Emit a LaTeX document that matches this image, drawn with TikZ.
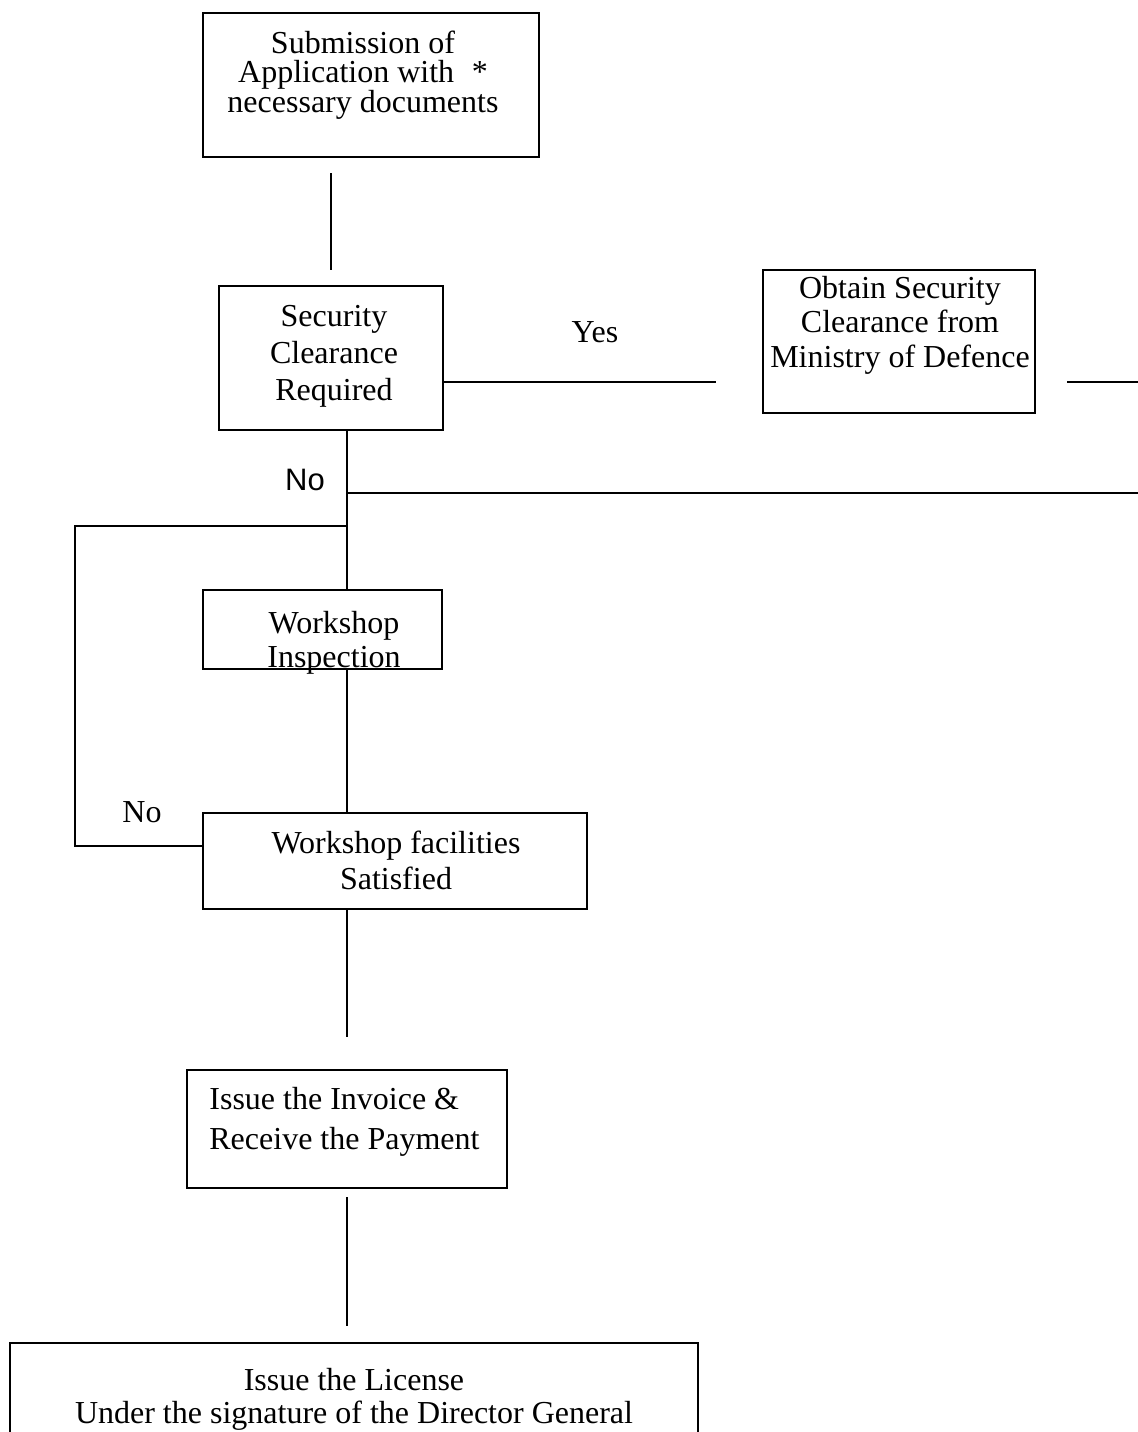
\documentclass[tikz,border=0pt]{standalone}
\usepackage{fontspec}
\setmainfont{Liberation Serif}
\newfontfamily\labelsans{Liberation Sans}
\newcommand\tstrut{\rule{0pt}{12pt}}
\begin{document}
\begin{tikzpicture}[x=0.5pt,y=-0.5pt,
  box/.style={draw,line width=1pt,rectangle,inner sep=0pt},
  txt/.style={inner sep=0pt,anchor=north,align=center},
  conn/.style={line width=1pt},
  lbl/.style={inner sep=0pt,anchor=base,font=\fontsize{16pt}{18pt}\selectfont}]
\useasboundingbox (0,0) rectangle (1138,1432);
\clip (0,0) rectangle (1138,1432);

% boxes
\node[box,minimum width=168pt,minimum height=72pt] (sub) at (371,85) {};
\node[box,minimum width=112pt,minimum height=72pt] (sec) at (331,358) {};
\node[box,minimum width=136pt,minimum height=71.5pt] (mod) at (899,341.5) {};
\node[box,minimum width=119.5pt,minimum height=39.5pt] (insp) at (322.5,629.5) {};
\node[box,minimum width=192pt,minimum height=48pt] (sat) at (395,861) {};
\node[box,minimum width=160pt,minimum height=59pt] (inv) at (347,1129) {};
\node[box,minimum width=344pt,minimum height=68.5pt] (lic) at (354,1411.5) {};

% texts
\node[txt,font=\fontsize{16pt}{14.75pt}\selectfont] (subT) at (363,29)
  {\tstrut Submission of\\Application with\hspace{0.55em}*\\necessary documents};
\node[txt,font=\fontsize{16pt}{18.5pt}\selectfont] (secT) at (334,302)
  {\tstrut Security\\Clearance\\Required};
\node[txt,font=\fontsize{16pt}{17.25pt}\selectfont] (modT) at (900,274)
  {\tstrut Obtain Security\\Clearance from\\Ministry of Defence};
\node[txt,font=\fontsize{16pt}{17pt}\selectfont] (inspT) at (334,609)
  {\tstrut Workshop\\Inspection};
\node[txt,font=\fontsize{16pt}{18pt}\selectfont] (satT) at (396,829)
  {\tstrut Workshop facilities\\Satisfied};
\node[txt,anchor=north west,align=left,font=\fontsize{16pt}{20pt}\selectfont] (invT) at (209,1085)
  {\tstrut Issue the Invoice \&\\Receive the Payment};
\node[txt,font=\fontsize{16pt}{16.5pt}\selectfont] (licT) at (354,1366)
  {\tstrut Issue the License\\Under the signature of the Director General};

% labels
\node[lbl] (yes) at (595,342) {Yes};
\node[lbl,font=\labelsans\fontsize{15.5pt}{18pt}\selectfont] (noA) at (305,490) {No};
\node[lbl] (noB) at (142,822) {No};

% free connector ends
\coordinate (c1a) at (331,173);
\coordinate (c1b) at (331,270);
\coordinate (yesEnd) at (716,382);
\coordinate (rA) at (1067,382);
\coordinate (rB) at (1138,382);
\coordinate (spine) at (347,0);
\coordinate (hA) at (347,493);
\coordinate (hB) at (1138,493);
\coordinate (lA) at (347,526);
\coordinate (lB) at (75,526);
\coordinate (lC) at (75,846);
\coordinate (c5end) at (347,1037);
\coordinate (c6a) at (347,1197);
\coordinate (c6b) at (347,1326);

% connectors
\draw[conn] (c1a) -- (c1b);
\draw[conn] (sec.east |- yesEnd) -- (yesEnd);
\draw[conn] (rA) -- (rB);
\draw[conn] (sec.south -| spine) -- (insp.north -| spine);
\draw[conn] (hA) -- (hB);
\draw[conn] (lA) -- (lB) -- (lC) -- (sat.west |- lC);
\draw[conn] (insp.south -| spine) -- (sat.north -| spine);
\draw[conn] (sat.south -| spine) -- (c5end);
\draw[conn] (c6a) -- (c6b);
\end{tikzpicture}
\end{document}
